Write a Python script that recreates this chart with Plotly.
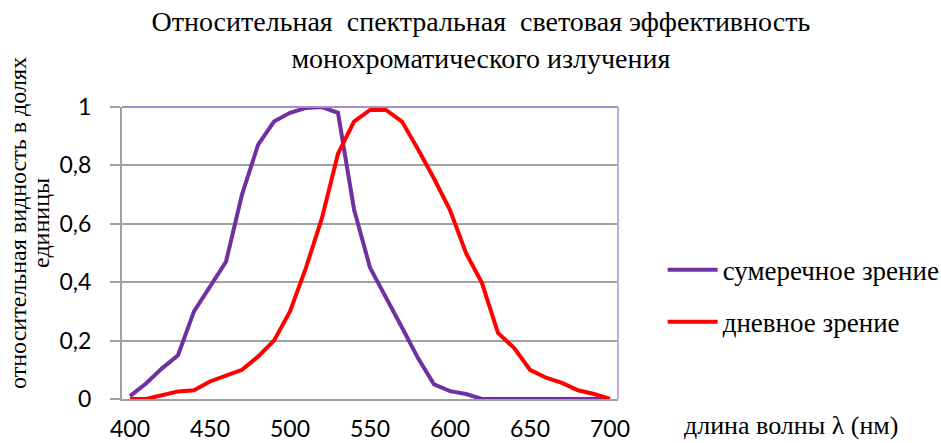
import plotly.graph_objects as go

wavelength = list(range(400, 701, 10))
scotopic = [0.01, 0.053, 0.105, 0.15, 0.30, 0.385, 0.47, 0.70, 0.87, 0.95, 0.98, 0.997, 1.0, 0.98,
            0.65, 0.45, 0.35, 0.245, 0.14, 0.05, 0.027, 0.017, 0, 0, 0, 0, 0, 0, 0, 0, 0]
photopic = [0, 0, 0.013, 0.026, 0.03, 0.06, 0.08, 0.1, 0.145, 0.2, 0.3, 0.45, 0.62, 0.84, 0.95,
            0.99, 0.99, 0.95, 0.855, 0.755, 0.647, 0.5, 0.397, 0.226, 0.175, 0.1, 0.073, 0.055, 0.03, 0.017, 0]
x_ticks = [400, 450, 500, 550, 600, 650, 700]
y_ticks = [0, 0.2, 0.4, 0.6, 0.8, 1.0]
y_tick_text = ["0", "0,2", "0,4", "0,6", "0,8", "1"]

serif = "Liberation Serif"
sans = "Lato"

fig = go.Figure()
fig.add_trace(go.Scatter(x=wavelength, y=scotopic, mode="lines", name="сумеречное зрение",
                         legendgroup="a", line=dict(color="#7030A0", width=4)))
fig.add_trace(go.Scatter(x=wavelength, y=photopic, mode="lines", name="дневное зрение",
                         legendgroup="b", line=dict(color="#FF0000", width=4)))

fig.update_layout(
    width=941, height=443,
    margin=dict(l=122, r=323, t=107, b=44, autoexpand=False),
    paper_bgcolor="white", plot_bgcolor="white",
    title=dict(text="Относительная  спектральная  световая эффективность<br>монохроматического излучения",
               x=0.511, xanchor="center", y=0.929, yanchor="top",
               font=dict(family=serif, size=28, color="black")),
    showlegend=True,
    legend=dict(x=1.09, y=0.352, xanchor="left", yanchor="middle",
                font=dict(family=serif, size=27, color="black"),
                tracegroupgap=14, itemwidth=50, bgcolor="rgba(0,0,0,0)"),
    xaxis=dict(range=[395, 705], tickvals=x_ticks, showgrid=False, zeroline=False,
               showline=True, linecolor="#a0a0a0", linewidth=2, mirror=False, automargin=False,
               ticks="", tickfont=dict(family=sans, size=23, color="black"), ticklabelstandoff=8),
    yaxis=dict(range=[0, 1.0], tickvals=y_ticks, ticktext=y_tick_text, showgrid=True,
               gridcolor="#a0a0a0", gridwidth=2, zeroline=False, automargin=False,
               showline=True, linecolor="#a0a0a0", linewidth=2,
               ticks="outside", ticklen=10, tickcolor="#a0a0a0", tickwidth=2,
               ticklabelstandoff=14,
               tickfont=dict(family=sans, size=23, color="black")),
)

# plot border top/right in light purple
fig.add_shape(type="line", xref="paper", yref="paper", x0=0, x1=1, y0=1, y1=1,
              line=dict(color="#a98cc6", width=2))
fig.add_shape(type="line", xref="paper", yref="paper", x0=1, x1=1, y0=0, y1=1,
              line=dict(color="#c4a8e0", width=2))

fig.add_annotation(text="относительная видность в долях", xref="paper", yref="paper",
                   x=-0.2097, y=0.603, xanchor="center", yanchor="middle", textangle=-90,
                   showarrow=False, font=dict(family=serif, size=24, color="black"))
fig.add_annotation(text="единицы", xref="paper", yref="paper",
                   x=-0.1633, y=0.603, xanchor="center", yanchor="middle", textangle=-90,
                   showarrow=False, font=dict(family=serif, size=24, color="black"))
fig.add_annotation(text="длина волны λ (нм)", xref="paper", yref="paper",
                   x=1.13, y=-0.09, xanchor="left", yanchor="middle", showarrow=False,
                   font=dict(family=serif, size=26, color="black"))

fig.write_html("out.html", config={"displayModeBar": False},
               post_script="document.body.style.margin='0';")
